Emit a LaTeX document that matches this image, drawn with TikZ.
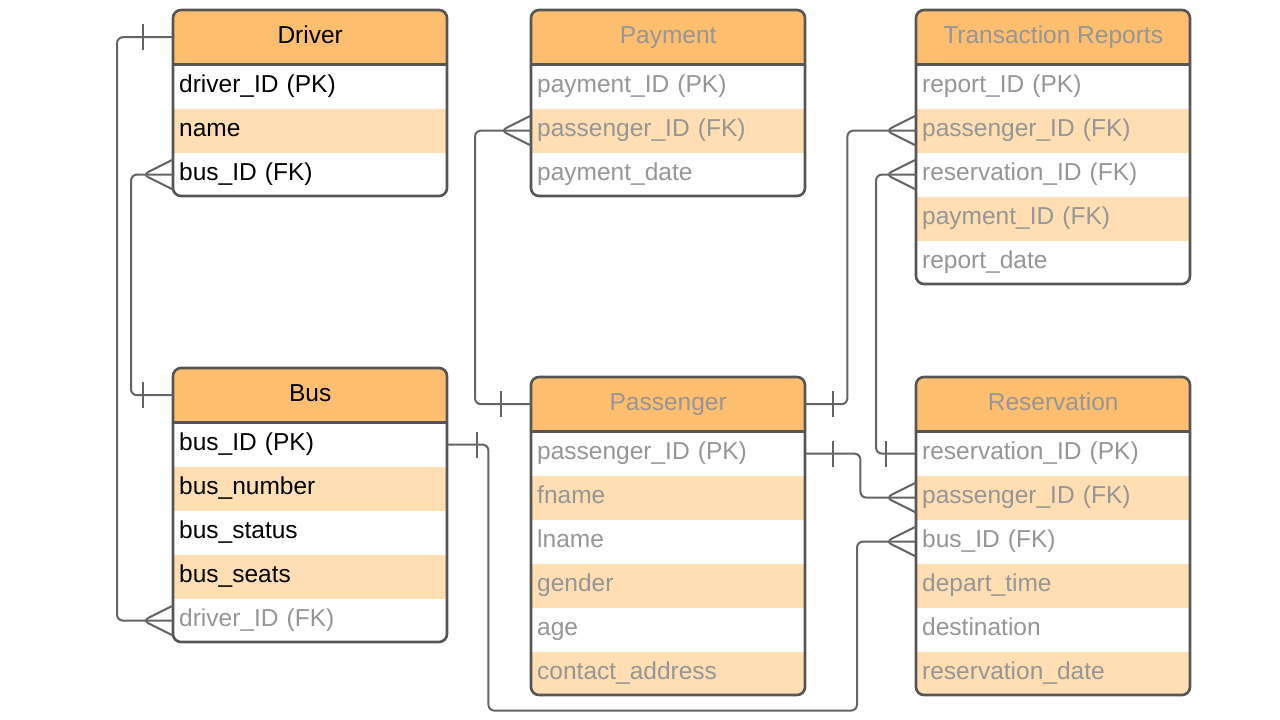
\documentclass[tikz,border=0pt]{standalone}
\usepackage{fontspec}
\setmainfont{Liberation Sans}
\usetikzlibrary{calc}

\definecolor{headorange}{RGB}{253,190,112}
\definecolor{roworange}{RGB}{254,222,178}
\definecolor{boxline}{RGB}{85,85,85}
\definecolor{connline}{RGB}{100,100,100}
\definecolor{blurtext}{RGB}{150,150,150}

\tikzset{
  headbox/.style={rectangle, fill=headorange, minimum width=274, minimum height=54,
    inner sep=0, text height=17.5, text depth=5, font=\fontsize{24.5}{29}\selectfont},
  rowbox/.style={rectangle, minimum height=44, text width=262, inner xsep=6, inner ysep=0,
    text height=17.5, text depth=5, align=left, font=\fontsize{24.5}{29}\selectfont},
  tableline/.style={draw=boxline, line width=2.6, rounded corners=8},
  conn/.style={draw=connline, line width=2, rounded corners=6},
}

% one table: name, x, y, rows, title, fields, text colour
\newcommand{\ertable}[7]{%
  \begin{scope}
    \clip[rounded corners=8] (#2,#3) rectangle ++(274,-54-44*#4);
    \node[headbox, text=#7, anchor=north west] (#1-h) at (#2,#3) {#5};
    \foreach \r [count=\i] in {#6} {
      \ifodd\i \def\rf{white}\else \def\rf{roworange}\fi
      \node[rowbox, fill=\rf, text=#7, anchor=north west] (#1-\i)
        at ($(#1-h.south west)+(0,44-44*\i)$) {\r};
    }
  \end{scope}
  \draw[tableline] (#2,#3) rectangle ++(274,-54-44*#4);
  \draw[draw=boxline, line width=2.6] (#1-h.south west) -- (#1-h.south east);
}
% crow's foot at a west side, bar at an offset
\newcommand{\manyend}[1]{\draw[conn] ($(#1)+(0,15)$) -- ++(-30,-15) -- ++(30,-15);}
\newcommand{\onebar}[2]{\draw[conn] ($(#1)+(#2,-13)$) -- ++(0,26);}

\begin{document}
\begin{tikzpicture}[x=1pt, y=1pt]
\fill[white] (0,0) rectangle (1280,-720);
\useasboundingbox (0,0) rectangle (1280,-720);

\ertable{drv}{173}{-10}{3}{Driver}{driver\_ID (PK), name, bus\_ID (FK)}{black}
\ertable{bus}{173}{-368}{5}{Bus}{bus\_ID (PK), bus\_number, bus\_status, bus\_seats, {\color{blurtext}driver\_ID (FK)}}{black}
\ertable{pay}{531}{-10}{3}{Payment}{payment\_ID (PK), passenger\_ID (FK), payment\_date}{blurtext}
\ertable{trn}{916}{-10}{5}{Transaction Reports}{report\_ID (PK), passenger\_ID (FK), reservation\_ID (FK), payment\_ID (FK), report\_date}{blurtext}
\ertable{psg}{531}{-377}{6}{Passenger}{passenger\_ID (PK), fname, lname, gender, age, contact\_address}{blurtext}
\ertable{res}{916}{-377}{6}{Reservation}{reservation\_ID (PK), passenger\_ID (FK), bus\_ID (FK), depart\_time, destination, reservation\_date}{blurtext}

% driver -- bus
\draw[conn] (drv-h.west) -- ++(-56,0) |- (bus-5.west);
\onebar{drv-h.west}{-30}
\manyend{bus-5.west}
\draw[conn] (bus-h.west) -- ++(-42,0) |- (drv-3.west);
\onebar{bus-h.west}{-30}
\manyend{drv-3.west}

% passenger -- payment, reports
\draw[conn] (psg-h.west) -- ++(-56,0) |- (pay-2.west);
\onebar{psg-h.west}{-30}
\manyend{pay-2.west}
\draw[conn] (psg-h.east) -- ++(42,0) |- (trn-2.west);
\onebar{psg-h.east}{28}
\manyend{trn-2.west}

% reservation -- reports
\draw[conn] (res-1.west) -- ++(-40,0) |- (trn-3.west);
\onebar{res-1.west}{-30}
\manyend{trn-3.west}

% passenger -- reservation
\draw[conn] (psg-1.east) -- ++(55,0) |- (res-2.west);
\onebar{psg-1.east}{28}
\manyend{res-2.west}

% bus -- reservation
\draw[conn] (bus-1.east) -- ++(41,0) -- ++(0,-266) -| ($(res-3.west)+(-59,0)$) -- (res-3.west);
\onebar{bus-1.east}{30}
\manyend{res-3.west}
\end{tikzpicture}
\end{document}
